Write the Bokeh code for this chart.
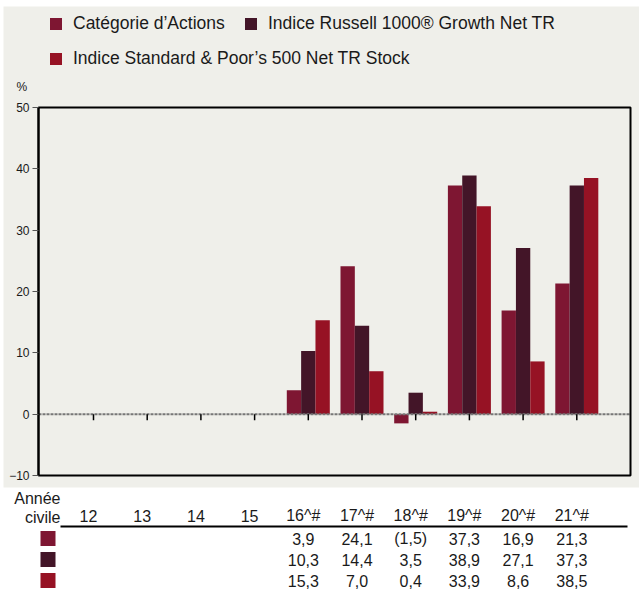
from bokeh.plotting import figure
from bokeh.models import (Range1d, FixedTicker, Legend, LegendItem, Label,
                          LinearAxis)
from bokeh.embed import file_html
from bokeh.resources import INLINE
from bokeh.core.properties import value

# ---------------- data ----------------
years = ["12", "13", "14", "15", "16^#", "17^#", "18^#", "19^#", "20^#", "21^#"]
categorie = [None, None, None, None, 3.9, 24.1, -1.5, 37.3, 16.9, 21.3]
russell = [None, None, None, None, 10.3, 14.4, 3.5, 38.9, 27.1, 37.3]
sp500 = [None, None, None, None, 15.3, 7.0, 0.4, 33.9, 8.6, 38.5]
series_names = ["Catégorie d’Actions",
                "Indice Russell 1000® Growth Net TR",
                "Indice Standard & Poor’s 500 Net TR Stock"]
y_ticks = [-10, 0, 10, 20, 30, 40, 50]
y_min, y_max = -10, 50

# ---------------- styles / geometry (pixels) ----------------
colors = ["#7E1632", "#431528", "#961224"]
FONT = "Liberation Sans"
BG = "#EFEFEA"
TXT = "#1a1a1a"
W, H = 639, 589
CAT0_PX, CAT_STEP = 93.0, 53.7           # pixel of first category, px per category
FRAME_L, FRAME_R, FRAME_T, FRAME_B = 38, 630, 107, 475
SY = (FRAME_B - FRAME_T) / (y_max - y_min)


def xd(pix):
    return (pix - CAT0_PX) / CAT_STEP


def yd(pix):
    return y_max - (pix - FRAME_T) / SY


n = len(years)
idx = list(range(n))

p = figure(width=W, height=H, x_range=Range1d(xd(0), xd(W)),
           y_range=Range1d(yd(H), yd(0)), output_backend="svg",
           toolbar_location=None, x_axis_location=None, y_axis_location=None,
           min_border=0, background_fill_color="white",
           border_fill_color="white", outline_line_color=None)
p.grid.visible = False

# grey panel behind legend and chart
p.quad(left=[xd(3)], right=[xd(W)], top=[yd(6)], bottom=[yd(487)],
       fill_color=BG, line_color=None)

# y axis drawn on the frame's left edge
ya = LinearAxis(fixed_location=xd(FRAME_L), bounds=(y_min, y_max),
                ticker=FixedTicker(ticks=y_ticks))
ya.axis_line_color = "black"
ya.axis_line_width = 2
ya.major_tick_out = 6
ya.major_tick_in = 0
ya.major_tick_line_color = "#555555"
ya.minor_tick_line_color = None
ya.major_label_standoff = 3
ya.major_label_text_font = FONT
ya.major_label_text_font_size = "12px"
ya.major_label_text_color = TXT
p.add_layout(ya, "left")

# bars
bw = 0.267
renderers = []
for k, vals in enumerate([categorie, russell, sp500]):
    xs = [i + (k - 1) * bw for i in idx]
    tops = [float("nan") if v is None else v for v in vals]
    r = p.vbar(x=xs, top=tops, bottom=0, width=bw, fill_color=colors[k],
               line_color=None)
    renderers.append(r)

# zero line and category ticks
p.segment(x0=[xd(FRAME_L)], x1=[xd(FRAME_R)], y0=[0], y1=[0],
          line_color="#777777", line_width=2, line_dash="3 1")
p.segment(x0=idx, x1=idx, y0=[0] * n, y1=[-1] * n, line_color="black",
          line_width=1.5)

# frame
p.quad(left=[xd(FRAME_L)], right=[xd(FRAME_R)], top=[y_max], bottom=[y_min],
       fill_color=None, line_color="black", line_width=2)

# legends
leg_kw = dict(glyph_width=15, glyph_height=15, label_standoff=10,
              label_text_font=FONT, label_text_font_size="17.5px",
              label_text_color=TXT, padding=0, margin=0, spacing=0,
              background_fill_alpha=0, border_line_alpha=0, label_height=15)
LH = 22
leg_pos = [(48, H - 12 - LH), (243, H - 12 - LH), (48, H - 47 - LH)]
for k in range(3):
    lg = Legend(items=[LegendItem(label=series_names[k], renderers=[renderers[k]])],
                location=leg_pos[k], **leg_kw)
    p.add_layout(lg)

p.add_layout(Label(x=16, y=H - 86, x_units="screen", y_units="screen",
                   text="%", text_font=FONT, text_font_size="12px",
                   text_baseline="middle", text_color=TXT))

# ---------------- table ----------------
tk = dict(text_font=value(FONT), text_font_size="16px", text_color=TXT,
          text_baseline="middle")
p.text(x=[xd(60), xd(60)], y=[yd(498), yd(517)], text=["Année", "civile"],
       text_align="right", **tk)
p.text(x=idx, y=[yd(515)] * n, text=years, x_offset=-5, text_align="center", **tk)
p.segment(x0=[xd(60)], x1=[xd(627)], y0=[yd(526)], y1=[yd(526)],
          line_color="black", line_width=2)


def fmt(v):
    if v is None:
        return ""
    s = f"{abs(v):.1f}".replace(".", ",")
    return f"({s})" if v < 0 else s


rows_px = [538, 559, 580]
for k, vals in enumerate([categorie, russell, sp500]):
    p.rect(x=[xd(47.5)], y=[yd(rows_px[k])], width=15, height=15,
           width_units="screen", height_units="screen", fill_color=colors[k],
           line_color=None)
    p.text(x=idx, y=[yd(rows_px[k])] * n, text=[fmt(v) for v in vals],
           x_offset=-5, text_align="center", **tk)

open("out.html", "w").write(file_html(p, INLINE))
